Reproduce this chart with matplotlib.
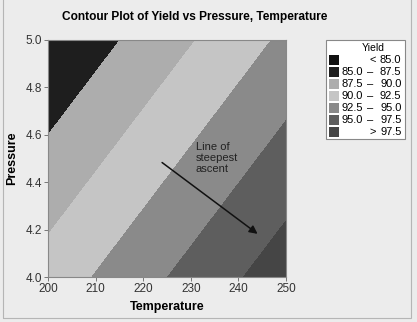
import matplotlib
matplotlib.use("Agg")
import matplotlib.pyplot as plt
from matplotlib.patches import Rectangle
import numpy as np

plt.rcParams['font.family'] = ['Liberation Sans', 'DejaVu Sans']

# Data: fitted yield surface read at the corners of the design region
temperature = [200, 250]
pressure = [4.0, 5.0]
yield_grid = [[91.05, 98.90],   # at pressure 4.0
              [85.12, 92.98]]   # at pressure 5.0

levels = [80, 85.0, 87.5, 90.0, 92.5, 95.0, 97.5, 105]
band_colors = ['#111111', '#1e1e1e', '#adadad', '#c5c5c5', '#8a8a8a', '#5e5e5e', '#454545']
legend_lo = ['', '85.0', '87.5', '90.0', '92.5', '95.0', '']
legend_hi = ['85.0', '87.5', '90.0', '92.5', '95.0', '97.5', '97.5']
legend_op = ['<', '–', '–', '–', '–', '–', '>']

arrow_start = (223.5, 4.49)
arrow_end = (244.5, 4.175)

W, H = 417, 322
fig = plt.figure(figsize=(W / 100, H / 100), dpi=100)
bg = '#ececec'
fig.patch.set_facecolor(bg)

# outer frame
fig.patches.append(Rectangle((3 / W, 4 / H), (411 - 3) / W, 1.2, transform=fig.transFigure,
                             fill=False, edgecolor='#b5b5b5', lw=0.8))

ax = fig.add_axes([48 / W, 1 - 277 / H, (286 - 48) / W, (277 - 40) / H])
T, P = np.meshgrid(temperature, pressure)
ax.contourf(T, P, np.array(yield_grid), levels=levels, colors=band_colors)
ax.set_xlim(200, 250)
ax.set_ylim(4.0, 5.0)
ax.set_xticks([200, 210, 220, 230, 240, 250])
ax.set_yticks([4.0, 4.2, 4.4, 4.6, 4.8, 5.0])
ax.set_yticklabels(['4.0', '4.2', '4.4', '4.6', '4.8', '5.0'])
ax.tick_params(direction='out', length=3, width=0.7, color='#777777', labelsize=8.5,
               labelcolor='#333333', pad=1.5)
for s in ax.spines.values():
    s.set_color('#888888')
    s.set_linewidth(0.8)

ax.set_xlabel('Temperature', fontsize=9, fontweight='bold', labelpad=4)
ax.set_ylabel('Pressure', fontsize=9, fontweight='bold', labelpad=5)
fig.text(195 / W, 1 - 17 / H, 'Contour Plot of Yield vs Pressure, Temperature',
         ha='center', va='center', fontsize=8.6, fontweight='bold')

ax.annotate('', xy=arrow_end, xytext=arrow_start,
            arrowprops=dict(arrowstyle='-|>', color='#111111', lw=1.1, mutation_scale=12))
ax.text(231.0, 4.57, 'Line of\nsteepest\nascent', fontsize=8, color='#222222',
        ha='left', va='top', linespacing=1.1)

# legend
lx0, ly0, lx1, ly1 = 326, 40, 405, 139
fig.patches.append(Rectangle((lx0 / W, 1 - ly1 / H), (lx1 - lx0) / W, (ly1 - ly0) / H,
                             transform=fig.transFigure, facecolor='white',
                             edgecolor='#888888', lw=0.8))
fig.text(373 / W, 1 - 48 / H, 'Yield', ha='center', va='center', fontsize=7.5)
for i in range(len(band_colors)):
    yc = 60 + i * 12.0
    fig.patches.append(Rectangle((328.5 / W, 1 - (yc + 5) / H), 10.5 / W, 10 / H,
                                 transform=fig.transFigure, facecolor=band_colors[i],
                                 edgecolor='none'))
    fy = 1 - yc / H
    if legend_lo[i]:
        fig.text(363 / W, fy, legend_lo[i], ha='right', va='center', fontsize=8)
    opx = 370 if legend_op[i] == '–' else 373
    fig.text(opx / W, fy, legend_op[i], ha='center', va='center', fontsize=8)
    fig.text(401.5 / W, fy, legend_hi[i], ha='right', va='center', fontsize=8)

fig.savefig('out.png', dpi=100, facecolor=bg)
